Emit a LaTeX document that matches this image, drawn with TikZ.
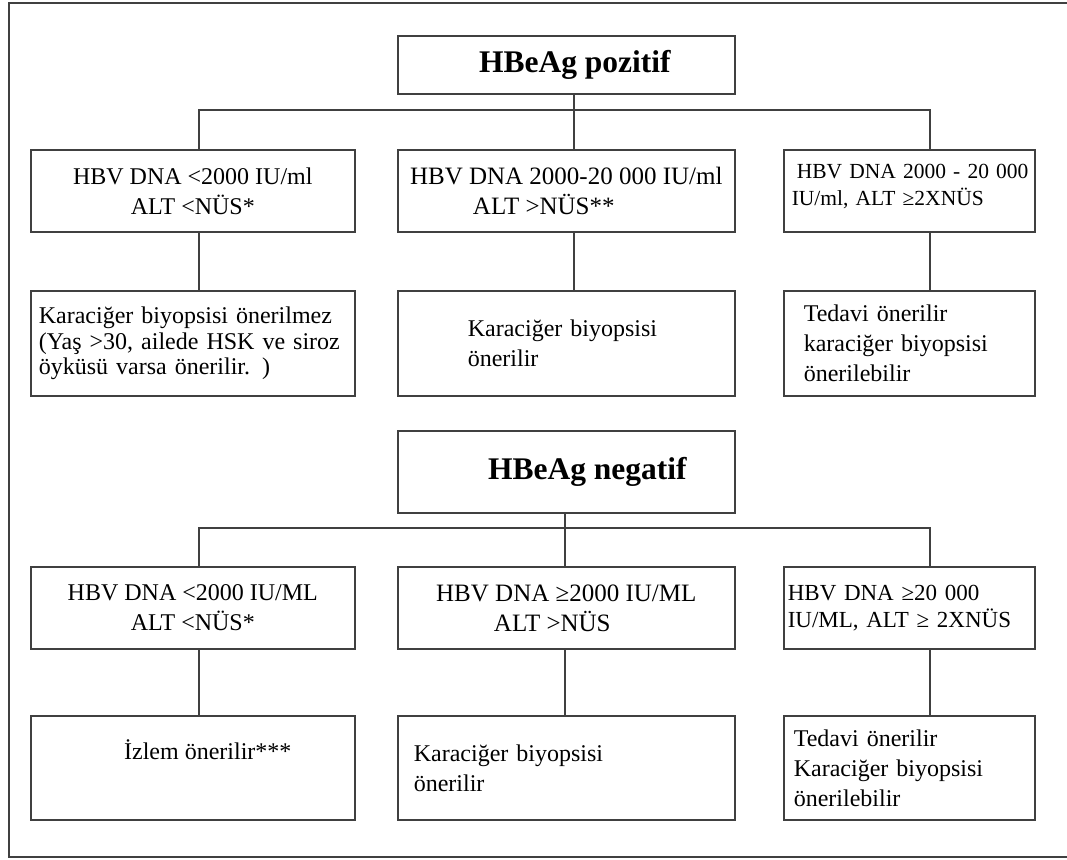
\documentclass[tikz,border=0pt]{standalone}
\usepackage{fontspec}
\setmainfont{Liberation Serif}
\begin{document}
\begin{tikzpicture}[x=1pt,y=-1pt,
  box/.style={draw=black!75, line width=1.6pt, inner sep=0pt, anchor=north west},
  conn/.style={draw=black!75, line width=1.6pt},
  hd/.style={font=\bfseries\fontsize{31.5}{34}\selectfont},
  tx/.style={font=\fontsize{24}{30}\selectfont},
  tw/.style={font=\fontsize{25}{30}\selectfont},
  tl/.style={font=\fontsize{24}{25.5}\selectfont},
  ts/.style={font=\fontsize{23}{27}\selectfont},
  tr/.style={font=\fontsize{21.5}{27}\selectfont}]
\useasboundingbox (0,0) rectangle (1067,859);
\clip (0,0) rectangle (1067,859);
\fill[white] (0,0) rectangle (1067,859);
% outer frame (right side lies beyond the picture)
\draw[conn] (1090,3) -- (9,3) -- (9,857) -- (1090,857);

% branch coordinates
\coordinate (xa) at (199,0);
\coordinate (xb) at (574,0);
\coordinate (xc) at (930,0);
\coordinate (xd) at (565,0);
\coordinate (hy1) at (0,110);
\coordinate (hy2) at (0,528);

% ---------- HBeAg pozitif ----------
\node[box, hd, minimum width=337, minimum height=58] (pos) at (397,35) {\hspace*{17pt}HBeAg pozitif};

\node[box, tx, minimum width=324, minimum height=82, align=center] (p1) at (30,149)
  {HBV DNA <2000 IU/ml\\ALT <NÜS*};
\node[box, tw, minimum width=337, minimum height=82, align=center] (p2) at (397,149)
  {HBV DNA 2000-20 000 IU/ml\\ALT >NÜS**\hspace*{45pt}};
\node[box, tr, minimum width=251, minimum height=82, text width=251, align=left] (p3) at (783,149)
  {\hspace*{13pt}HBV DNA 2000 - 20 000\\\hspace*{8pt}IU/ml, ALT ≥2XNÜS\rule[-12pt]{0pt}{0pt}};

\node[box, tl, minimum width=324, minimum height=105, text width=308, align=left] (q1) at (30,290)
  {Karaciğer biyopsisi önerilmez\\(Yaş >30, ailede HSK ve siroz\\öyküsü varsa önerilir. )};
\node[box, tx, minimum width=337, minimum height=105, text width=197, align=left] (q2) at (397,290)
  {Karaciğer biyopsisi\\önerilir};
\node[box, tx, minimum width=251, minimum height=105, text width=211, align=left] (q3) at (783,290)
  {Tedavi önerilir\\karaciğer biyopsisi\\önerilebilir};

\draw[conn] (pos.south -| xb) -- (xb |- hy1);
\draw[conn] (p1.north -| xa) -- (xa |- hy1) -- (xc |- hy1) -- (p3.north -| xc);
\draw[conn] (xb |- hy1) -- (p2.north -| xb);
\draw[conn] (p1.south -| xa) -- (q1.north -| xa);
\draw[conn] (p2.south -| xb) -- (q2.north -| xb);
\draw[conn] (p3.south -| xc) -- (q3.north -| xc);

% ---------- HBeAg negatif ----------
\node[box, hd, minimum width=337, minimum height=82] (neg) at (397,430) {\hspace*{42pt}HBeAg negatif};

\node[box, tx, minimum width=324, minimum height=82, align=center] (n1) at (30,566)
  {HBV DNA <2000 IU/ML\\ALT <NÜS*};
\node[box, tw, minimum width=337, minimum height=82, align=center] (n2) at (397,566)
  {HBV DNA ≥2000 IU/ML\\ALT >NÜS\hspace*{28pt}};
\node[box, ts, minimum width=251, minimum height=82, text width=243, align=left] (n3) at (783,566)
  {HBV DNA ≥20 000\\IU/ML, ALT ≥ 2XNÜS};

\node[box, tx, minimum width=324, minimum height=104] (m1) at (30,715)
  {\hspace*{30pt}İzlem önerilir***\rule[-36pt]{0pt}{0pt}};
\node[box, tx, minimum width=337, minimum height=104, text width=305, align=left] (m2) at (397,715)
  {Karaciğer biyopsisi\\önerilir};
\node[box, tx, minimum width=251, minimum height=104, text width=231, align=left] (m3) at (783,715)
  {Tedavi önerilir\\Karaciğer biyopsisi\\önerilebilir};

\draw[conn] (neg.south -| xd) -- (xd |- hy2);
\draw[conn] (n1.north -| xa) -- (xa |- hy2) -- (xc |- hy2) -- (n3.north -| xc);
\draw[conn] (xd |- hy2) -- (n2.north -| xd);
\draw[conn] (n1.south -| xa) -- (m1.north -| xa);
\draw[conn] (n2.south -| xd) -- (m2.north -| xd);
\draw[conn] (n3.south -| xc) -- (m3.north -| xc);
\end{tikzpicture}
\end{document}
